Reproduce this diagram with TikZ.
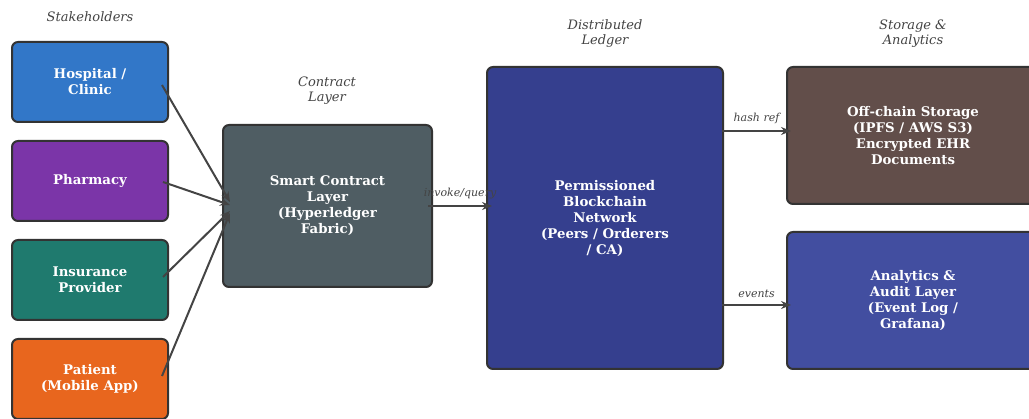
\documentclass[tikz,border=0pt]{standalone}
\usepackage{fontspec}
\setmainfont{DejaVu Serif}
\usetikzlibrary{arrows.meta}
\definecolor{hospital}{HTML}{3277C8}
\definecolor{pharmacy}{HTML}{7B35A8}
\definecolor{insurance}{HTML}{1F7A6E}
\definecolor{patient}{HTML}{E8661E}
\definecolor{contract}{HTML}{4F5D63}
\definecolor{ledger}{HTML}{353F8E}
\definecolor{storage}{HTML}{624E4A}
\definecolor{analytics}{HTML}{424EA0}
\definecolor{edge}{HTML}{333333}
\definecolor{wire}{HTML}{444444}
\tikzset{
  block/.style={draw=edge, line width=2pt, rounded corners=6pt, text=white,
    align=center, font=\fontsize{13.3}{16}\selectfont\bfseries, inner sep=0pt},
  caption/.style={align=center, text=wire, font=\fontsize{13}{15}\selectfont\itshape},
  wirelabel/.style={text=wire, font=\fontsize{11}{13}\selectfont\itshape},
  link/.style={draw=wire, line width=2pt, -{Stealth[length=10pt,width=8pt]}}
}
\begin{document}
\begin{tikzpicture}[x=1pt,y=-1pt]
\useasboundingbox (0,0) rectangle (1029,419);
\clip (0,0) rectangle (1029,419);
\fill[white] (0,0) rectangle (1029,419);

% stakeholders
\node[block, fill=hospital, minimum width=156pt, minimum height=80pt] (hosp) at (90,82) {Hospital /\\Clinic};
\node[block, fill=pharmacy, minimum width=156pt, minimum height=80pt] (pharm) at (90,181) {Pharmacy};
\node[block, fill=insurance, minimum width=156pt, minimum height=80pt] (ins) at (90,280) {Insurance\\Provider};
\node[block, fill=patient, minimum width=156pt, minimum height=80pt] (pat) at (90,379) {Patient\\(Mobile App)};

% contract layer
\node[block, fill=contract, minimum width=209pt, minimum height=162pt] (sc) at (327.5,206) {Smart Contract\\Layer\\(Hyperledger\\Fabric)};

% ledger
\node[block, fill=ledger, minimum width=236pt, minimum height=302pt] (bc) at (605,218) {Permissioned\\Blockchain\\Network\\(Peers / Orderers\\/ CA)};

% storage and analytics
\node[block, fill=storage, minimum width=252pt, minimum height=137pt] (off) at (913,135.5) {Off-chain Storage\\(IPFS / AWS S3)\\Encrypted EHR\\Documents};
\node[block, fill=analytics, minimum width=252pt, minimum height=137pt] (ana) at (913,300.5) {Analytics \&\\Audit Layer\\(Event Log /\\Grafana)};

% column captions
\node[caption] (capS) at (90,17) {Stakeholders};
\node[caption] (capC) at (327,91) {Contract\\Layer};
\node[caption] (capL) at (605,34) {Distributed\\Ledger};
\node[caption] (capA) at (913,34) {Storage \&\\Analytics};

% anchor points for the converging links
\coordinate (h0) at (162,85);
\coordinate (p0) at (163,182);
\coordinate (i0) at (163,277);
\coordinate (q0) at (162,376);
\coordinate (scin1) at (230,202);
\coordinate (scin2) at (230,205);
\coordinate (scin3) at (230,211);
\coordinate (scin4) at (230,213);
\draw[link] (h0) -- (scin1);
\draw[link] (p0) -- (scin2);
\draw[link] (i0) -- (scin3);
\draw[link] (q0) -- (scin4);

% ledger links
\coordinate (a1) at (428,206);
\coordinate (b1) at (492,206);
\draw[link] (a1) -- (b1) node[wirelabel, midway, above=3pt] {invoke/query};
\coordinate (a2) at (722,131);
\coordinate (b2) at (791,131);
\draw[link] (a2) -- (b2) node[wirelabel, midway, above=3pt] {hash ref};
\coordinate (a3) at (722,305);
\coordinate (b3) at (791,305);
\draw[link] (a3) -- (b3) node[wirelabel, midway, above=3pt] {events};
\end{tikzpicture}
\end{document}
